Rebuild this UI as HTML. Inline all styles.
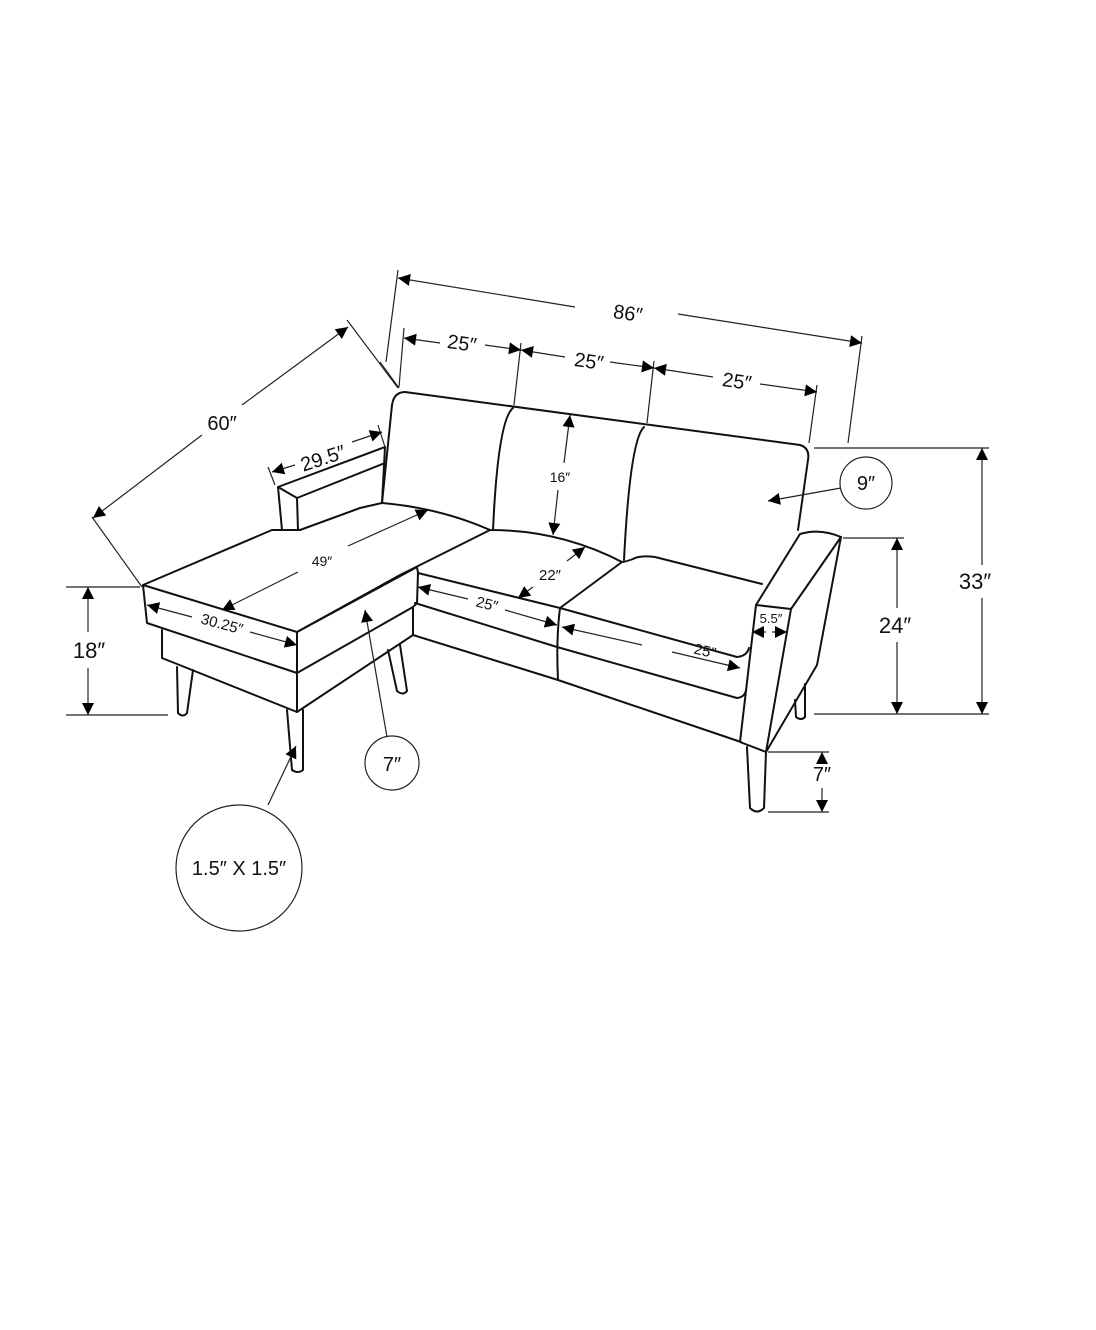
<!DOCTYPE html>
<html><head><meta charset="utf-8"><style>
html,body{margin:0;padding:0;background:#fff}
svg{display:block}
text{font-family:"Liberation Sans",sans-serif;fill:#111}
</style></head><body>
<svg width="1096" height="1330" viewBox="0 0 1096 1330" xmlns="http://www.w3.org/2000/svg">
<defs>
<marker id="a" viewBox="0 0 10 10" refX="10" refY="5" markerWidth="14" markerHeight="12" markerUnits="userSpaceOnUse" orient="auto-start-reverse"><path d="M0,0L10,5L0,10z" fill="#000"/></marker>
</defs>
<g fill="none" stroke="#111" stroke-width="2" stroke-linejoin="round" stroke-linecap="round">
<path d="M382,503 L392,405 Q394,392 405,392 L800,445 Q810,448 808,460 L798,530"/>
<path d="M513,408 Q498,420 493,530"/>
<path d="M644,427 Q630,440 624,560"/>
<path d="M278,487 L385,447 L382,503 L360,508 L300,530 L272,530 L143,585"/>
<path d="M278,487 L297,498 L385,463"/>
<path d="M278,487 L282,530 M297,498 L298,530"/>
<path d="M382,503 Q440,508 490,530 Q560,530 622,562"/>
<path d="M490,530 L400,575 L297,632"/>
<path d="M622,562 L560,608 M633,559 Q625,562 622,562 M633,559 Q640,555 655,557 L762,584"/>
<path d="M143,585 L147,623 L297,673 L297,632 L143,585"/>
<path d="M162,630 L162,658 L297,712 L297,673"/>
<path d="M297,632 L417,567 L418,573 L417,603 L413,607 L297,673"/>
<path d="M297,712 L413,635 L413,607"/>
<path d="M418,573 L560,608 L737,657 Q747,656 749,648"/>
<path d="M415,603 L557,647 L737,698 Q745,697 746,690"/>
<path d="M413,635 L558,680 L741,742"/>
<path d="M560,608 Q556,640 558,680"/>
<path d="M756,605 L800,534 Q820,528 841,537 L791,609 Z"/>
<path d="M756,605 L740,742 L766,752 L791,609"/>
<path d="M841,537 L817,665 L766,752"/>
<path d="M177,667 L178,713 Q183,718 187,713 L193,670"/>
<path d="M287,710 L292,770 Q298,774 303,770 L303,710"/>
<path d="M388,650 L397,691 Q403,696 407,691 L400,645"/>
<path d="M747,747 L750,808 Q757,815 764,808 L766,752"/>
<path d="M795,700 L796,717 Q801,721 805,717 L805,684"/>
</g>
<g fill="none" stroke="#222" stroke-width="1.2">
<path d="M398,270 L386,362 M380,362 L399,388"/>
<path d="M862,336 L848,443"/>
<path d="M404,328 L399,387 M521,343 L514,405 M654,361 L647,423 M817,385 L809,443"/>
<path d="M347,320 L398,388 M92,517 L142,587"/>
<path d="M268,467 L275,485 M378,425 L385,447"/>
<path d="M814,448 L989,448 M814,714 L989,714 M843,538 L904,538 M768,752 L829,752 M768,812 L829,812"/>
<path d="M66,587 L140,587 M66,715 L168,715"/>
<path d="M398,278 L575,307" marker-start="url(#a)"/>
<path d="M678,314 L862,343" marker-end="url(#a)"/>
<path d="M404,338 L440,343" marker-start="url(#a)"/>
<path d="M485,345 L521,350" marker-end="url(#a)"/>
<path d="M521,350 L565,357" marker-start="url(#a)"/>
<path d="M610,362 L654,368" marker-end="url(#a)"/>
<path d="M654,368 L713,377" marker-start="url(#a)"/>
<path d="M760,384 L817,392" marker-end="url(#a)"/>
<path d="M93,518 L202,435" marker-start="url(#a)"/>
<path d="M242,405 L348,327" marker-end="url(#a)"/>
<path d="M272,472 L295,465" marker-start="url(#a)"/>
<path d="M352,442 L382,432" marker-end="url(#a)"/>
<path d="M222,610 L298,572" marker-start="url(#a)"/>
<path d="M348,546 L428,510" marker-end="url(#a)"/>
<path d="M147,605 L192,617" marker-start="url(#a)"/>
<path d="M250,632 L297,645" marker-end="url(#a)"/>
<path d="M570,415 L564,463" marker-start="url(#a)"/>
<path d="M558,490 L553,535" marker-end="url(#a)"/>
<path d="M518,598 L533,587" marker-start="url(#a)"/>
<path d="M567,561 L585,547" marker-end="url(#a)"/>
<path d="M418,587 L468,599" marker-start="url(#a)"/>
<path d="M505,610 L557,625" marker-end="url(#a)"/>
<path d="M562,627 L642,645" marker-start="url(#a)"/>
<path d="M672,652 L740,668" marker-end="url(#a)"/>
<path d="M752,632 L766,632" marker-start="url(#a)"/>
<path d="M772,632 L787,632" marker-end="url(#a)"/>
<path d="M982,448 L982,565" marker-start="url(#a)"/>
<path d="M982,598 L982,714" marker-end="url(#a)"/>
<path d="M897,538 L897,608" marker-start="url(#a)"/>
<path d="M897,642 L897,714" marker-end="url(#a)"/>
<path d="M822,752 L822,764" marker-start="url(#a)"/>
<path d="M822,788 L822,812" marker-end="url(#a)"/>
<path d="M88,587 L88,632" marker-start="url(#a)"/>
<path d="M88,668 L88,715" marker-end="url(#a)"/>
<path d="M841,488 L768,501" marker-end="url(#a)"/>
<path d="M387,737 L365,610" marker-end="url(#a)"/>
<path d="M268,805 L296,746" marker-end="url(#a)"/>
<circle cx="866" cy="483" r="26"/>
<circle cx="392" cy="763" r="27"/>
<circle cx="239" cy="868" r="63"/>
</g>
<g font-size="20" text-anchor="middle">
<text x="628" y="320" transform="rotate(8 628 313)">86″</text>
<text x="462" y="350" transform="rotate(8 462 343)">25″</text>
<text x="589" y="368" transform="rotate(8 589 361)">25″</text>
<text x="737" y="388" transform="rotate(8 737 381)">25″</text>
<text x="222" y="430">60″</text>
<text x="323" y="465" transform="rotate(-18 323 458)">29.5″</text>
<text x="322" y="566" font-size="14">49″</text>
<text x="222" y="629" font-size="15" transform="rotate(15 222 624)">30.25″</text>
<text x="560" y="482" font-size="14">16″</text>
<text x="550" y="580" font-size="15">22″</text>
<text x="487" y="609" font-size="15" transform="rotate(14 487 604)">25″</text>
<text x="705" y="656" font-size="15" transform="rotate(13 705 651)">25″</text>
<text x="771" y="623" font-size="13">5.5″</text>
<text x="866" y="490">9″</text>
<text x="975" y="589" font-size="22">33″</text>
<text x="895" y="633" font-size="22">24″</text>
<text x="822" y="781">7″</text>
<text x="89" y="658" font-size="22">18″</text>
<text x="392" y="771">7″</text>
<text x="239" y="875">1.5″ X 1.5″</text>
</g>
</svg>
</body></html>
